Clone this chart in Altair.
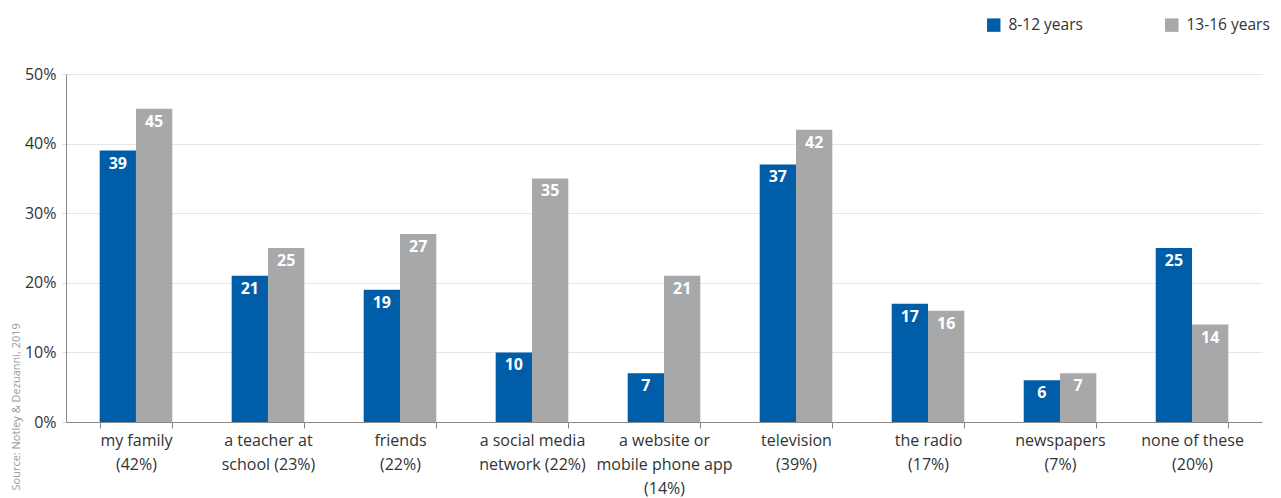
import altair as alt
import pandas as pd

categories = ["my family\n(42%)", "a teacher at\nschool (23%)", "friends\n(22%)",
              "a social media\nnetwork (22%)", "a website or\nmobile phone app\n(14%)",
              "television\n(39%)", "the radio\n(17%)", "newspapers\n(7%)", "none of these\n(20%)"]
series = ["8-12 years", "13-16 years"]
values_8_12 = [39, 21, 19, 10, 7, 37, 17, 6, 25]
values_13_16 = [45, 25, 27, 35, 21, 42, 16, 7, 14]
colors = ["#005DA8", "#A7A8AA"]
source_text = "Source: Notley & Dezuanni, 2019"

rows = []
for i, c in enumerate(categories):
    rows.append({"cat": c, "group": series[0], "value": values_8_12[i], "order": 0})
    rows.append({"cat": c, "group": series[1], "value": values_13_16[i], "order": 1})
df = pd.DataFrame(rows)

FONT = "Open Sans"

x = alt.X("cat:N", sort=categories,
          scale=alt.Scale(paddingInner=0.45, paddingOuter=0.255),
          axis=alt.Axis(title=None, labelAngle=0, labelExpr="split(datum.label, '\\n')",
                        labelFontSize=16, labelColor="#333333", labelLineHeight=24,
                        labelPadding=4, labelFont=FONT,
                        tickBand="extent", tickSize=6, tickColor="#888888",
                        domainColor="#888888", grid=False))
y = alt.Y("value:Q", scale=alt.Scale(domain=[0, 50]),
          axis=alt.Axis(values=[0, 10, 20, 30, 40, 50], labelExpr="datum.value + '%'",
                        labelFontSize=16, labelColor="#333333", labelFont=FONT,
                        labelPadding=6,
                        tickSize=4, tickColor="#dddddd", domainColor="#888888",
                        gridColor="#e6e6e6",
                        title=source_text, titleFontSize=11, titleFontWeight="normal",
                        titleColor="#999999", titleFont=FONT, titleAnchor="start",
                        titleAngle=-90, titleAlign="left", titleBaseline="middle",
                        titleX=-50, titleY=416))
xo = alt.XOffset("group:N", sort=series, scale=alt.Scale(paddingInner=0, paddingOuter=0))

bars = alt.Chart(df).mark_bar().encode(
    x=x, y=y, xOffset=xo,
    color=alt.Color("group:N", sort=series, scale=alt.Scale(domain=series, range=colors),
                    legend=alt.Legend(title=None, orient="none", direction="horizontal",
                                      legendX=920, legendY=-57, symbolType="square",
                                      symbolSize=180, symbolStrokeWidth=0,
                                      labelFontSize=15.5, labelColor="#333333", labelFont=FONT,
                                      columnPadding=81, labelOffset=7)),
)

labels = alt.Chart(df).mark_text(baseline="top", dy=5, color="white", fontSize=16,
                                 fontWeight="bold", font=FONT).encode(
    x=alt.X("cat:N", sort=categories), y="value:Q", xOffset=xo, text="value:Q")

chart = alt.layer(bars, labels).properties(
    width=1196, height=348,
    padding={"left": 58, "top": 66, "right": 11, "bottom": 76},
    autosize=alt.AutoSizeParams(type="none"),
).configure_view(stroke=None)

chart.save("out.html", embed_options={"renderer": "svg", "actions": False})
